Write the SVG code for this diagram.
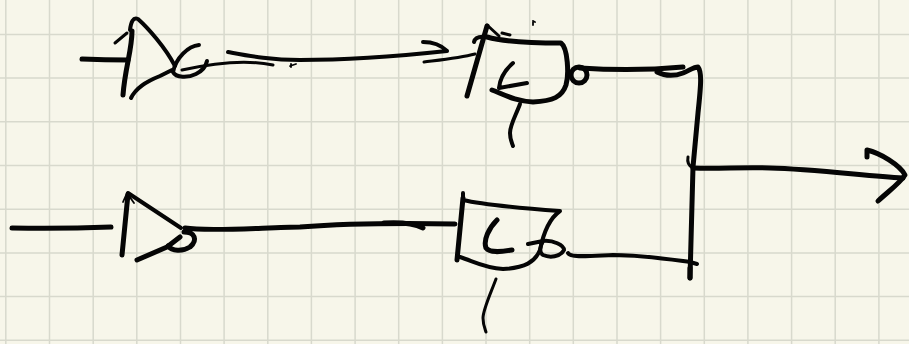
<svg xmlns="http://www.w3.org/2000/svg" width="909" height="344" viewBox="0 0 909 344">
<style>
.grid{stroke:#d8d9cd;stroke-width:1.5;fill:none}
g path,g circle{fill:none;stroke:#050505;stroke-linecap:round;stroke-linejoin:round}
.t{stroke-width:1.8}.s{stroke-width:3}.m{stroke-width:4}.b{stroke-width:5}
</style>
<rect width="909" height="344" fill="#f7f6ea"/>
<path class="grid" d="M5.8 0V344M49.5 0V344M93.2 0V344M136.8 0V344M180.5 0V344M224.1 0V344M267.8 0V344M311.4 0V344M355.1 0V344M398.7 0V344M442.4 0V344M486 0V344M529.7 0V344M573.3 0V344M617 0V344M660.6 0V344M704.3 0V344M747.9 0V344M791.6 0V344M835.2 0V344M878.9 0V344M0 34.4H909M0 78.1H909M0 121.8H909M0 165.5H909M0 209.2H909M0 252.9H909M0 296.6H909M0 340.3H909"/>
<g id="buffer-top">
<path class="b" d="M82 59Q105 60 128 60"/>
<path class="b" d="M132 31C132 50 125 68 123 95"/>
<path class="s" d="M115 43L127 33"/>
<path class="m" d="M130 30C131 22 133 17 138 19C148 28 165 47 175 66"/>
<path class="m" d="M131 98C136 88 145 82 160 76L172 70"/>
<path class="m" d="M199 45C188 46 176 58 173 72C176 78 188 78 196 74C202 71 206 66 207 61"/>
<path class="s" d="M182 70C200 66 240 58 273 65"/>
</g>
<g id="buffer-bottom">
<path class="b" d="M12 228Q60 229 111 227"/>
<path class="b" d="M128 194L122 255"/>
<path class="t" d="M123 202L127 193L134 203"/>
<path class="m" d="M128 193L181 228"/>
<path class="b" d="M137 260L167 247L180 237"/>
<path class="b" d="M184 232C195 232 198 240 190 247C182 252 172 251 168 246"/>
</g>
<g id="gate-top">
<path class="m" d="M474 42C475 37 480 36 487 37"/>
<path class="b" d="M487 26L467 96"/>
<path class="s" d="M487 25L499 36M502 33L510 35"/>
<path class="t" d="M533 21V25M533 21L535 22"/>
<path class="b" d="M487 37C505 42 535 43 561 43C568 48 569 75 566 85C562 97 553 101 533 102C515 101 505 95 492 90"/>
<path class="m" d="M513 63C505 70 500 78 499 88L527 83"/>
<path class="m" d="M520 104C516 115 510 125 510 133C510 140 512 143 513 146"/>
<circle class="b" cx="579" cy="75" r="8"/>
</g>
<g id="gate-bottom">
<path class="m" d="M463 193V200C480 204 520 208 560 211C550 218 544 230 540 250C535 262 525 268 503 269C485 268 475 262 460 257"/>
<path class="b" d="M463 198L457 260"/>
<path class="b" d="M497 220C489 228 483 240 486 248C490 253 500 252 512 250"/>
<path class="m" d="M528 244L543 241C553 240 564 245 564 250C560 257 550 258 543 255C539 252 540 246 543 241"/>
<path class="s" d="M496 279C490 295 483 310 483 318C483 325 485 329 486 332"/>
</g>
<g id="connectors">
<path class="m" d="M228 52C250 56 270 60 300 60C340 60 400 56 447 51C442 46 435 42 423 42"/>
<path class="s" d="M424 62C440 60 460 58 475 54"/>
<path class="t" d="M290 66L296 64M291 64V67"/>
<path class="b" d="M185 228C210 232 270 227 300 227C340 224 400 223 455 224"/>
<path class="b" d="M384 223C400 222 415 224 423 228"/>
<path class="m" d="M568 253C570 258 590 256 613 255C640 255 660 258 690 262L697 264"/>
<path class="b" d="M580 68C610 70 640 71 683 67"/>
<path class="b" d="M657 72C665 76 675 76 683 73C690 70 694 67 698 67C702 72 701 85 698 113L693 167L690 278"/>
<path class="b" d="M690 268V278"/>
<path class="s" d="M688 157C687 162 689 166 693 168"/>
<path class="b" d="M693 168C720 169 740 167 770 168C810 169 860 175 903 178"/>
<path class="b" d="M867 157V150C880 153 900 165 905 175C900 183 890 190 878 201"/>
</g>
</svg>
